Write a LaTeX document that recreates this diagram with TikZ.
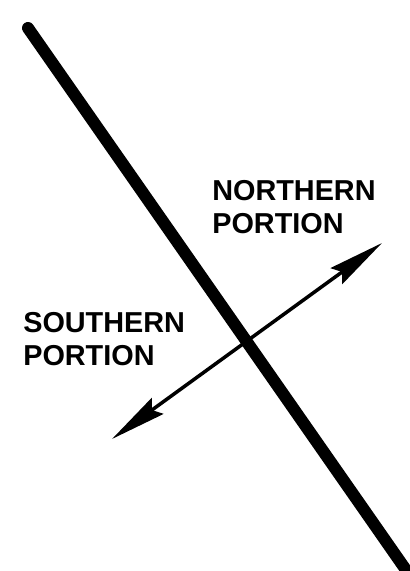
\documentclass[tikz,border=0pt]{standalone}
\usepackage{fontspec}
\setmainfont{Liberation Sans}
\usetikzlibrary{arrows.meta}

\begin{document}
\begin{tikzpicture}[x=0.025cm,y=-0.025cm,
  boundary/.style={line width=0.3cm,line cap=round},
  dirarrow/.style={line width=2.5pt,
    {Stealth[length=40pt,width=14pt,inset=5pt]}-{Stealth[length=40pt,width=14pt,inset=5pt]}},
  portion/.style={inner sep=0pt,anchor=north west,align=left,
    font=\fontsize{20.5}{23.5}\selectfont\bfseries}]
\useasboundingbox (0,0) rectangle (409,571);
% dividing line
\coordinate (top) at (28,28);
\coordinate (bot) at (406,570);
\draw[boundary] (top) -- (bot);
% two-way arrow across it
\coordinate (sw) at (112,439);
\coordinate (ne) at (382,243);
\draw[dirarrow] (sw) -- (ne);
% labels
\node[portion] (north) at (212,180) {NORTHERN\\PORTION};
\node[portion] (south) at (23,312) {SOUTHERN\\PORTION};
\end{tikzpicture}
\end{document}
